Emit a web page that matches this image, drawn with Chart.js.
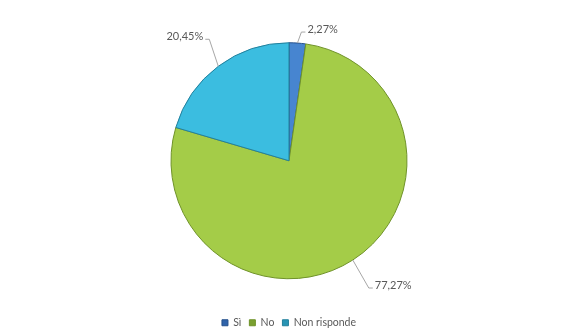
<!DOCTYPE html>
<html>
<head>
<meta charset="utf-8">
<script src="https://cdn.jsdelivr.net/npm/chart.js@4"></script>
<style>
  html, body { margin: 0; padding: 0; background: #fff; }
  #wrap { width: 568px; height: 329px; }
</style>
</head>
<body>
<div id="wrap"><canvas id="pieChart" width="568" height="329"></canvas></div>
<script>
// Risposte (percentuali)
const labels = ['Sì', 'No', 'Non risponde'];
const values = [2.27, 77.27, 20.45];
const valueLabels = ['2,27%', '77,27%', '20,45%'];

// colori: interno, bordo esterno, contorno
const fillInner = ['#4785d0', '#a4cc48', '#3bbde0'];
const fillOuter = ['#2f63aa', '#7aa030', '#2894b4'];
const strokes = ['#24508c', '#6f9229', '#23809c'];

// gradiente radiale per ogni spicchio
function sliceFill(ctx) {
  const chart = ctx.chart;
  const arc = chart.getDatasetMeta(0).data[ctx.dataIndex];
  if (!arc || !arc.outerRadius) return fillInner[ctx.dataIndex];
  const g = chart.ctx.createRadialGradient(arc.x, arc.y, 0, arc.x, arc.y, arc.outerRadius);
  g.addColorStop(0, fillInner[ctx.dataIndex]);
  g.addColorStop(0.88, fillInner[ctx.dataIndex]);
  g.addColorStop(1, fillOuter[ctx.dataIndex]);
  return g;
}

// etichette esterne con linee guida
const leaderLabels = {
  id: 'leaderLabels',
  afterDatasetsDraw(chart, args, opts) {
    const c = chart.ctx;
    const meta = chart.getDatasetMeta(0);
    c.save();
    c.font = opts.font;
    c.fillStyle = opts.color;
    c.strokeStyle = opts.lineColor;
    c.lineWidth = 1;
    meta.data.forEach((arc, i) => {
      const mid = (arc.startAngle + arc.endAngle) / 2;
      const ex = arc.x + Math.cos(mid) * arc.outerRadius;
      const ey = arc.y + Math.sin(mid) * arc.outerRadius;
      const off = opts.offsets[i];
      const bx = ex + off[0];
      const by = ey + off[1];
      const dir = off[0] >= 0 ? 1 : -1;
      const hx = bx + dir * 4;
      c.beginPath();
      c.moveTo(ex, ey);
      c.lineTo(bx, by);
      c.lineTo(hx, by);
      c.stroke();
      c.textAlign = dir > 0 ? 'left' : 'right';
      c.textBaseline = 'middle';
      c.fillText(valueLabels[i], hx + dir * 2, by - 3);
    });
    c.restore();
  }
};

new Chart(document.getElementById('pieChart'), {
  type: 'pie',
  data: {
    labels: labels,
    datasets: [{
      data: values,
      backgroundColor: sliceFill,
      borderColor: strokes,
      borderWidth: 1,
      radius: 118
    }]
  },
  options: {
    responsive: false,
    animation: false,
    layout: { padding: { top: 12, left: 10, right: 0, bottom: -9 } },
    plugins: {
      tooltip: { enabled: false },
      legend: {
        position: 'bottom',
        labels: {
          boxWidth: 6,
          boxHeight: 6,
          padding: 8,
          color: '#595959',
          font: { family: 'Lato', size: 10.5 }
        }
      },
      leaderLabels: {
        font: '11px Lato',
        color: '#595959',
        lineColor: '#a6a6a6',
        offsets: [[4, -11], [16, 28], [-9, -27]]
      }
    }
  },
  plugins: [leaderLabels]
});
</script>
</body>
</html>
